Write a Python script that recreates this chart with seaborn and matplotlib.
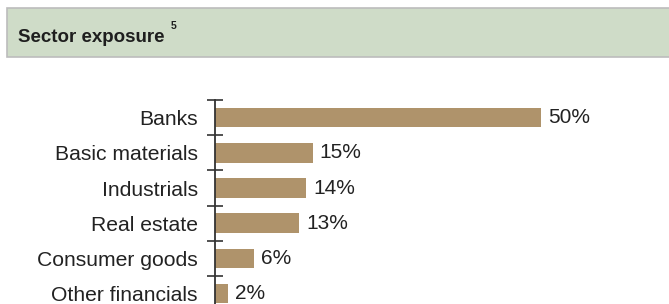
import matplotlib
matplotlib.use("Agg")
import matplotlib.pyplot as plt
import matplotlib.patches as patches
import pandas as pd
import seaborn as sns

# data
sectors = ["Banks", "Basic materials", "Industrials", "Real estate",
           "Consumer goods", "Other financials"]
exposure = [50, 15, 14, 13, 6, 2]

df = pd.DataFrame({"Sector": sectors, "Exposure": exposure})

sns.set_theme(style="white")
plt.rcParams['font.family'] = ['Liberation Sans', 'DejaVu Sans']

W, H = 669, 304
fig = plt.figure(figsize=(W / 100, H / 100), dpi=100)

# header band
fig.patches.append(patches.Rectangle((7 / W, 1 - 57 / H), 1.0, 49 / H,
                                     transform=fig.transFigure,
                                     facecolor="#cfdcc8", edgecolor="#bcbcbc",
                                     linewidth=1.2, zorder=0))
fig.text(18 / W, 1 - 42 / H, "Sector exposure", fontsize=13.5, fontweight="bold",
         color="#1e1e1e", va="baseline", ha="left")
fig.text(171 / W, 1 - 29 / H, "5", fontsize=7.5, fontweight="bold",
         color="#1e1e1e", va="baseline", ha="left")

# axes run a bit below the image, the last bar is cut like in the original
step = 35.2
ax = fig.add_axes([214.5 / W, (H - 100 - 6 * step) / H, 392 / W, 6 * step / H])

sns.barplot(data=df, x="Exposure", y="Sector", orient="h", color="#af936b",
            width=0.56, saturation=1, linewidth=0, ax=ax)

ax.bar_label(ax.containers[0], labels=[f"{v}%" for v in exposure],
             padding=5, fontsize=15, color="#222222")

ax.set_xlim(0, 60)
ax.set_ylim(5.5, -0.5)
ax.set_xlabel("")
ax.set_ylabel("")
ax.set_xticks([])
ax.set_yticks(range(len(sectors)))
ax.set_yticklabels(sectors, fontsize=15.2, color="#222222")
ax.set_yticks([i - 0.5 for i in range(len(sectors) + 1)], minor=True)
ax.tick_params(axis="y", which="major", length=0, pad=12)
ax.tick_params(axis="y", which="minor", left=True, direction="inout",
               length=12, width=1.2, color="#333333")

for side in ["top", "right", "bottom"]:
    ax.spines[side].set_visible(False)
ax.spines["left"].set_color("#333333")
ax.spines["left"].set_linewidth(1.3)
ax.set_facecolor("none")

fig.savefig("out.png", dpi=100)
